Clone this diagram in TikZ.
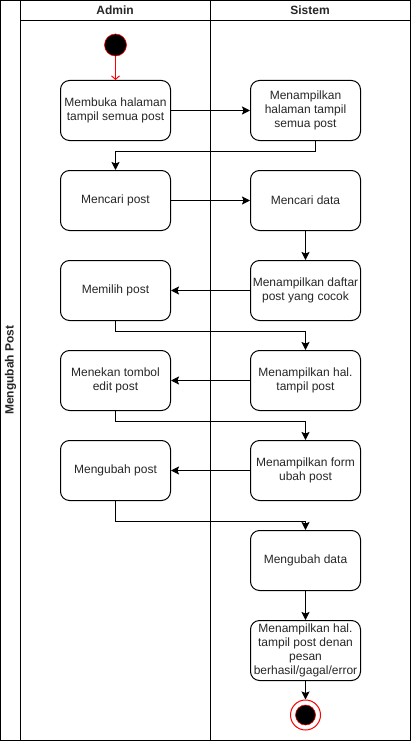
\documentclass[tikz,border=0pt]{standalone}
\usepackage{fontspec}
\setmainfont{Liberation Sans}
\usetikzlibrary{arrows.meta}

\tikzset{
	act/.style = {draw, rounded corners = 9pt, minimum width = 110pt, minimum height = 60pt,
		inner sep = 0pt, align = center, text = black!85, font = \fontsize{12}{14}\selectfont},
	flow/.style = {-{Stealth[length = 8pt, width = 8pt, inset = 1.5pt]}},
	startflow/.style = {red, -{Straight Barb[length = 3.5pt, width = 8pt]}},
	lanehead/.style = {font = \bfseries\fontsize{12}{14}\selectfont, text = black!85}
}

\begin{document}
\begin{tikzpicture}[x = 1pt, y = -1pt, line width = 1pt]

\useasboundingbox (0, 0) rectangle (411, 741);

\draw (0.5, 0.5) rectangle (410.5, 740.5);
\draw (20.5, 0.5) -- (20.5, 740.5);
\draw (210.5, 0.5) -- (210.5, 740.5);
\draw (20.5, 20.5) -- (410.5, 20.5);

\node[lanehead] (admin) at (115, 10.5) {Admin};
\node[lanehead] (sistem) at (310, 10.5) {Sistem};
\node[lanehead, rotate = 90] (lane) at (10.5, 370) {Mengubah Post};

\node[circle, fill = black, draw = red, line width = 0.6pt, minimum size = 22pt, inner sep = 0pt] (start) at (115.5, 45) {};

\node[act] (a1) at (115.5, 110.5) {Membuka halaman\\tampil semua post};
\node[act] (s1) at (305.5, 110.5) {Menampilkan\\halaman tampil\\semua post};
\node[act] (a2) at (115.5, 200.5) {Mencari post};
\node[act] (s2) at (305.5, 200.5) {Mencari data};
\node[act] (a3) at (115.5, 290.5) {Memilih post};
\node[act] (s3) at (305.5, 290.5) {Menampilkan daftar\\post yang cocok};
\node[act] (a4) at (115.5, 380.5) {Menekan tombol\\edit post};
\node[act] (s4) at (305.5, 380.5) {Menampilkan hal.\\tampil post};
\node[act] (a5) at (115.5, 470.5) {Mengubah post};
\node[act] (s5) at (305.5, 470.5) {Menampilkan form\\ubah post};
\node[act] (s6) at (305.5, 560.5) {Mengubah data};
\node[act] (s7) at (305.5, 650.5) {Menampilkan hal.\\tampil post denan\\pesan\\berhasil/gagal/error};

\node[circle, fill = white, draw = red, minimum size = 30pt, inner sep = 0pt] (end) at (305.5, 715) {};
\node[circle, fill = black, draw = red, line width = 0.6pt, minimum size = 20pt, inner sep = 0pt] (endin) at (end) {};

\draw[startflow] (start) -- (a1);
\draw[flow] (a1) -- (s1);
\draw[flow] ([xshift = 10pt]s1.south) -- ++(0, 10) -| (a2.north);
\draw[flow] (a2) -- (s2);
\draw[flow] (s2) -- (s3);
\draw[flow] (s3) -- (a3);
\draw[flow] (a3.south) -- ++(0, 10) -| (s4.north);
\draw[flow] (s4) -- (a4);
\draw[flow] (a4.south) -- ++(0, 10) -| (s5.north);
\draw[flow] (s5) -- (a5);
\draw[flow] (a5.south) -- ++(0, 20) -| (s6.north);
\draw[flow] (s6) -- (s7);
\draw[flow] (s7) -- (end);

\end{tikzpicture}
\end{document}
